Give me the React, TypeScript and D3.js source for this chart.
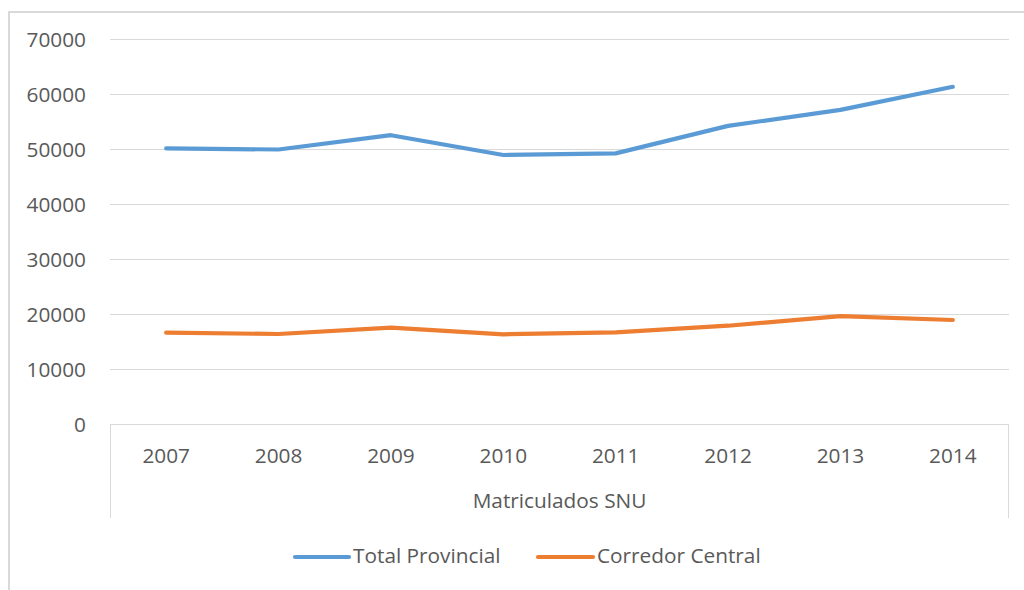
import React from "react";
import * as d3 from "d3";

const years = ["2007", "2008", "2009", "2010", "2011", "2012", "2013", "2014"];
const totalProvincial = [50200, 50000, 52600, 49000, 49300, 54300, 57200, 61400];
const corredorCentral = [16700, 16450, 17600, 16400, 16750, 17960, 19700, 19000];
const yTicks = [0, 10000, 20000, 30000, 40000, 50000, 60000, 70000];
const axisTitle = "Matriculados SNU";
const seriesNames = ["Total Provincial", "Corredor Central"];
const seriesColors = ["#5B9BD5", "#ED7D31"];

const W = 1024;
const H = 590;
const plotLeft = 110;
const plotRight = 1009;
const plotTop = 39.5;
const plotBottom = 424.5;
const FONT = "'Open Sans', 'Segoe UI', sans-serif";
const FS = 20.8;
const TEXT = "#595959";
const GRID = "#D9D9D9";

export default function App() {
  const x = d3.scaleBand<string>().domain(years).range([plotLeft, plotRight]).padding(0);
  const y = d3.scaleLinear().domain([0, 70000]).range([plotBottom, plotTop]);
  const cx = (yr: string) => (x(yr) as number) + x.bandwidth() / 2;
  const line = d3
    .line<number>()
    .x((_, i) => cx(years[i]))
    .y((d) => y(d))
    .curve(d3.curveLinear);
  const series = [totalProvincial, corredorCentral];

  return (
    <svg
      width={W}
      height={H}
      style={{ position: "absolute", left: 0, top: 0, background: "#fff", fontFamily: FONT }}
    >
      <rect x={0} y={0} width={W} height={H} fill="#fff" />
      <rect x={9} y={12} width={1200} height={800} fill="none" stroke={GRID} strokeWidth={2} />
      {yTicks.map((t) => (
        <g key={t}>
          {t > 0 && (
            <line x1={plotLeft} x2={plotRight} y1={y(t)} y2={y(t)} stroke={GRID} strokeWidth={1} />
          )}
          <text x={86} y={y(t) + 7.5} textAnchor="end" fontSize={FS} fill={TEXT}>
            {t}
          </text>
        </g>
      ))}
      <line x1={plotLeft} x2={plotRight} y1={plotBottom} y2={plotBottom} stroke={GRID} strokeWidth={1} />
      <line x1={plotLeft + 0.5} x2={plotLeft + 0.5} y1={plotBottom} y2={518} stroke={GRID} strokeWidth={1} />
      <line x1={plotRight - 0.5} x2={plotRight - 0.5} y1={plotBottom} y2={518} stroke={GRID} strokeWidth={1} />
      {years.map((yr) => (
        <text key={yr} x={cx(yr)} y={463} textAnchor="middle" fontSize={FS} fill={TEXT}>
          {yr}
        </text>
      ))}
      <text x={(plotLeft + plotRight) / 2} y={508} textAnchor="middle" fontSize={FS} fill={TEXT}>
        {axisTitle}
      </text>
      {series.map((s, i) => (
        <path
          key={i}
          d={line(s) || ""}
          fill="none"
          stroke={seriesColors[i]}
          strokeWidth={4.2}
          strokeLinecap="round"
          strokeLinejoin="round"
        />
      ))}
      {[
        { x1: 295, x2: 349, tx: 353 },
        { x1: 538, x2: 593, tx: 597 },
      ].map((l, i) => (
        <g key={i}>
          <line x1={l.x1} x2={l.x2} y1={557} y2={557} stroke={seriesColors[i]} strokeWidth={4.2} strokeLinecap="round" />
          <text x={l.tx} y={563} fontSize={FS} fill={TEXT}>
            {seriesNames[i]}
          </text>
        </g>
      ))}
    </svg>
  );
}
